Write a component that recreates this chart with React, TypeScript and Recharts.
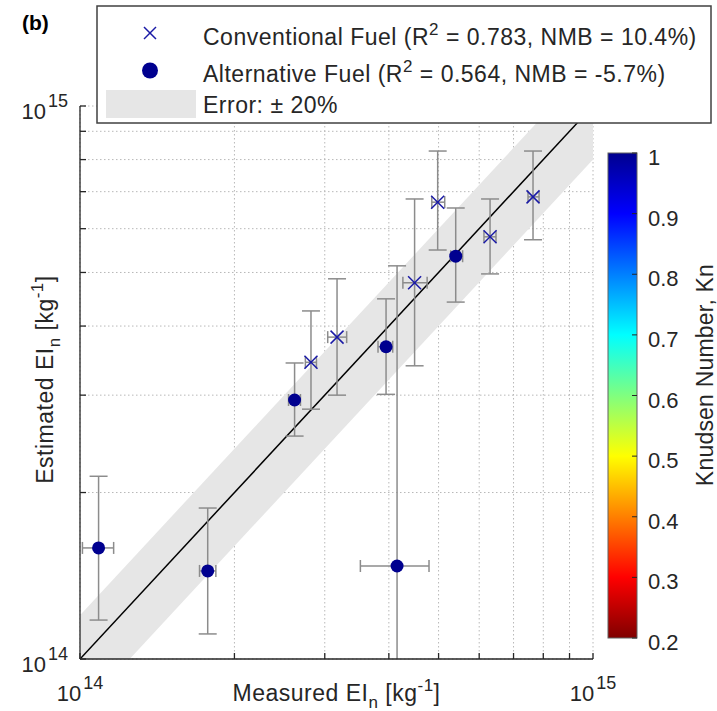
import React from "react";
import {
  ComposedChart,
  Scatter,
  Line,
  Area,
  XAxis,
  YAxis,
  CartesianGrid,
  ErrorBar,
} from "recharts";

const FONT = "'Liberation Sans', Arial, Helvetica, sans-serif";
const UNIT = 1e14; // all EI values below are in units of 1e14 kg^-1

// log axis ticks (x 1e14), only the decades get a label
const axisTicks = [1, 2, 3, 4, 5, 6, 7, 8, 9, 10];
const labeledTicks = [1, 10];
const axisDomain = [1, 10];

// Conventional fuel (crosses)
const convMeasured = [2.82, 3.17, 4.49, 4.98, 6.3, 7.64];
const convMeasuredLow = [2.75, 3.04, 4.26, 4.85, 6.13, 7.47];
const convMeasuredHigh = [2.89, 3.31, 4.75, 5.14, 6.47, 7.85];
const convEstimated = [3.44, 3.82, 4.79, 6.7, 5.8, 6.85];
const convEstimatedLow = [2.83, 3.0, 3.39, 5.49, 4.97, 5.73];
const convEstimatedHigh = [4.26, 4.87, 6.79, 8.29, 6.79, 8.29];

// Alternative fuel (filled circles)
const altMeasured = [1.087, 1.774, 2.62, 3.95, 5.4, 4.15];
const altMeasuredLow = [1.011, 1.71, 2.55, 3.81, 5.28, 3.52];
const altMeasuredHigh = [1.163, 1.84, 2.69, 4.07, 5.57, 4.79];
const altEstimated = [1.588, 1.443, 2.94, 3.67, 5.35, 1.473];
const altEstimatedLow = [1.176, 1.11, 2.53, 3.01, 4.42, 0.5];
const altEstimatedHigh = [2.14, 1.875, 3.43, 4.48, 6.54, 5.14];

// +/- 20% error band around the 1:1 line
const errorBand = 0.2;

// colorbar (Knudsen number)
const knTicks = [1, 0.9, 0.8, 0.7, 0.6, 0.5, 0.4, 0.3, 0.2];
const knRange = [0.2, 1];

const MARKER = "#00008f";
const CROSS = "#1a1aa6";
const ERR = "#8c8c8c";
const AXIS = "#262626";
const TEXT = "#262626";

const buildPoints = (
  mx: number[],
  mLo: number[],
  mHi: number[],
  ey: number[],
  eLo: number[],
  eHi: number[]
) =>
  mx.map((m, i) => ({
    x: m * UNIT,
    y: ey[i] * UNIT,
    errX: [(m - mLo[i]) * UNIT, (mHi[i] - m) * UNIT],
    errY: [(ey[i] - eLo[i]) * UNIT, (eHi[i] - ey[i]) * UNIT],
  }));

const convData = buildPoints(
  convMeasured,
  convMeasuredLow,
  convMeasuredHigh,
  convEstimated,
  convEstimatedLow,
  convEstimatedHigh
);
const altData = buildPoints(
  altMeasured,
  altMeasuredLow,
  altMeasuredHigh,
  altEstimated,
  altEstimatedLow,
  altEstimatedHigh
);

const lineData = axisDomain.map((v) => ({
  x: v * UNIT,
  diag: v * UNIT,
  band: [v * (1 - errorBand) * UNIT, v * (1 + errorBand) * UNIT],
}));

const isLabeled = (value: number) =>
  labeledTicks.includes(Math.round(value / UNIT));

const XTick = (props: any) => {
  const { x, y, payload } = props;
  if (!isLabeled(payload.value)) return null;
  const exp = Math.round(Math.log10(payload.value));
  return (
    <text x={x} y={y} dy={42} textAnchor="middle" fontSize={22} fill={TEXT} fontFamily={FONT}>
      10
      <tspan dx={2} dy={-12} fontSize={18}>
        {exp}
      </tspan>
    </text>
  );
};

const YTick = (props: any) => {
  const { x, y, payload } = props;
  if (!isLabeled(payload.value)) return null;
  const exp = Math.round(Math.log10(payload.value));
  return (
    <text x={x} y={y} dy={13} textAnchor="end" fontSize={22} fill={TEXT} fontFamily={FONT}>
      10
      <tspan dx={2} dy={-12} fontSize={18}>
        {exp}
      </tspan>
    </text>
  );
};

const AxisTitle = ({ name }: { name: string }) => (
  <>
    {name} EI
    <tspan dy={7} fontSize={17}>n</tspan>
    <tspan dy={-7}> [kg</tspan>
    <tspan dy={-10} fontSize={17}>-1</tspan>
    <tspan dy={10}>]</tspan>
  </>
);

const XLabel = (props: any) => {
  const { x, y, width } = props.viewBox;
  return (
    <text
      x={x + width / 2}
      y={y + 42}
      textAnchor="middle"
      fontSize={23}
      letterSpacing={0.5}
      fill={TEXT}
      fontFamily={FONT}
    >
      <AxisTitle name="Measured" />
    </text>
  );
};

const YLabel = (props: any) => {
  const { y, height } = props.viewBox;
  const cx = 53;
  const cy = y + height / 2 - 3;
  return (
    <text
      x={cx}
      y={cy}
      transform={`rotate(-90 ${cx} ${cy})`}
      textAnchor="middle"
      fontSize={23}
      letterSpacing={0.5}
      fill={TEXT}
      fontFamily={FONT}
    >
      <AxisTitle name="Estimated" />
    </text>
  );
};

const CrossShape = (props: any) => {
  const { cx, cy } = props;
  const s = 6.5;
  return (
    <g stroke={CROSS} strokeWidth={1.5}>
      <line x1={cx - s} y1={cy - s} x2={cx + s} y2={cy + s} />
      <line x1={cx - s} y1={cy + s} x2={cx + s} y2={cy - s} />
    </g>
  );
};

const DotShape = (props: any) => {
  const { cx, cy } = props;
  return <circle cx={cx} cy={cy} r={6.5} fill={MARKER} />;
};

// plot box, used to clip the error bars that run off the axes
const PLOT = { x: 80, y: 106, w: 513, h: 553 };

// colorbar geometry
const CB = { x: 608, y: 153, w: 29, h: 485 };
const knToY = (v: number) =>
  CB.y + CB.h - ((v - knRange[0]) / (knRange[1] - knRange[0])) * CB.h;

const Overlay = () => (
  <svg
    width={717}
    height={711}
    style={{ position: "absolute", left: 0, top: 0, pointerEvents: "none" }}
    fontFamily={FONT}
  >
    <defs>
      <linearGradient id="jet" x1="0" y1="0" x2="0" y2="1">
        <stop offset="0" stopColor="#00008f" />
        <stop offset="0.125" stopColor="#0000ff" />
        <stop offset="0.375" stopColor="#00ffff" />
        <stop offset="0.625" stopColor="#ffff00" />
        <stop offset="0.875" stopColor="#ff0000" />
        <stop offset="1" stopColor="#800000" />
      </linearGradient>
      <clipPath id="plotClip">
        <rect x={PLOT.x} y={PLOT.y} width={PLOT.w} height={PLOT.h} />
      </clipPath>
    </defs>

    <text x={22} y={30} fontSize={21} fontWeight="bold" fill="#000">
      (b)
    </text>

    {/* legend */}
    <rect x={97} y={6} width={614} height={117} fill="#fff" stroke="#404040" strokeWidth={1.5} />
    <g stroke={CROSS} strokeWidth={1.5}>
      <line x1={144} y1={27} x2={156} y2={39} />
      <line x1={144} y1={39} x2={156} y2={27} />
    </g>
    <circle cx={150} cy={70.5} r={8} fill={MARKER} />
    <rect x={106} y={90} width={90} height={28} fill="#e6e6e6" />
    <g fontSize={23} letterSpacing={0.5} fill={TEXT}>
      <text x={203} y={45}>
        Conventional Fuel (R<tspan dy={-10} fontSize={17}>2</tspan>
        <tspan dy={10}> = 0.783, NMB = 10.4%)</tspan>
      </text>
      <text x={203} y={82}>
        Alternative Fuel (R<tspan dy={-10} fontSize={17}>2</tspan>
        <tspan dy={10}> = 0.564, NMB = -5.7%)</tspan>
      </text>
      <text x={203} y={113}>Error: ± 20%</text>
    </g>

    {/* colorbar */}
    <rect x={CB.x} y={CB.y} width={CB.w} height={CB.h} fill="url(#jet)" stroke="#606060" strokeWidth={1} />
    {knTicks.map((v) => (
      <g key={v}>
        <line x1={CB.x + CB.w} x2={CB.x + CB.w - 5} y1={knToY(v)} y2={knToY(v)} stroke={AXIS} strokeWidth={1} />
        <text x={648} y={knToY(v) + 12} fontSize={22} fill={TEXT}>
          {v}
        </text>
      </g>
    ))}
    <text
      x={713}
      y={375}
      transform="rotate(-90 713 375)"
      textAnchor="middle"
      fontSize={23}
      letterSpacing={0.2}
      fill={TEXT}
    >
      Knudsen Number, Kn
    </text>
  </svg>
);

export default function App() {
  const ticks = axisTicks.map((t) => t * UNIT);
  const domain = [axisDomain[0] * UNIT, axisDomain[1] * UNIT];
  return (
    <div
      style={{
        position: "absolute",
        left: 0,
        top: 0,
        width: 717,
        height: 711,
        background: "#fff",
        fontFamily: FONT,
      }}
    >
      <ComposedChart
        width={717}
        height={711}
        data={lineData}
        margin={{ top: 106, right: 124, bottom: 0, left: 20 }}
      >
        <Area
          dataKey="band"
          type="linear"
          fill="#e6e6e6"
          fillOpacity={1}
          stroke="none"
          isAnimationActive={false}
        />
        <CartesianGrid stroke="#b8b8b8" strokeDasharray="1.5 2.5" />
        <Line
          dataKey="diag"
          type="linear"
          stroke="#000"
          strokeWidth={1.5}
          dot={false}
          isAnimationActive={false}
        />
        <XAxis
          type="number"
          dataKey="x"
          scale="log"
          domain={domain}
          ticks={ticks}
          interval={0}
          allowDataOverflow
          height={52}
          tickSize={-6}
          tickMargin={6}
          stroke={AXIS}
          strokeWidth={1.3}
          tick={(p: any) => <XTick {...p} />}
          label={(p: any) => <XLabel {...p} />}
        />
        <YAxis
          type="number"
          scale="log"
          domain={domain}
          ticks={ticks}
          interval={0}
          allowDataOverflow
          width={60}
          tickSize={-6}
          tickMargin={18}
          stroke={AXIS}
          strokeWidth={1.3}
          tick={(p: any) => <YTick {...p} />}
          label={(p: any) => <YLabel {...p} />}
        />
        <Scatter
          data={altData}
          dataKey="y"
          shape={(p: any) => <DotShape {...p} />}
          isAnimationActive={false}
        >
          <ErrorBar direction="y" dataKey="errY" stroke={ERR} strokeWidth={1.5} width={9} clipPath="url(#plotClip)" />
          <ErrorBar direction="x" dataKey="errX" stroke={ERR} strokeWidth={1.5} width={6} clipPath="url(#plotClip)" />
        </Scatter>
        <Scatter
          data={convData}
          dataKey="y"
          shape={(p: any) => <CrossShape {...p} />}
          isAnimationActive={false}
        >
          <ErrorBar direction="y" dataKey="errY" stroke={ERR} strokeWidth={1.5} width={9} clipPath="url(#plotClip)" />
          <ErrorBar direction="x" dataKey="errX" stroke={ERR} strokeWidth={1.5} width={6} clipPath="url(#plotClip)" />
        </Scatter>
      </ComposedChart>
      <Overlay />
    </div>
  );
}
